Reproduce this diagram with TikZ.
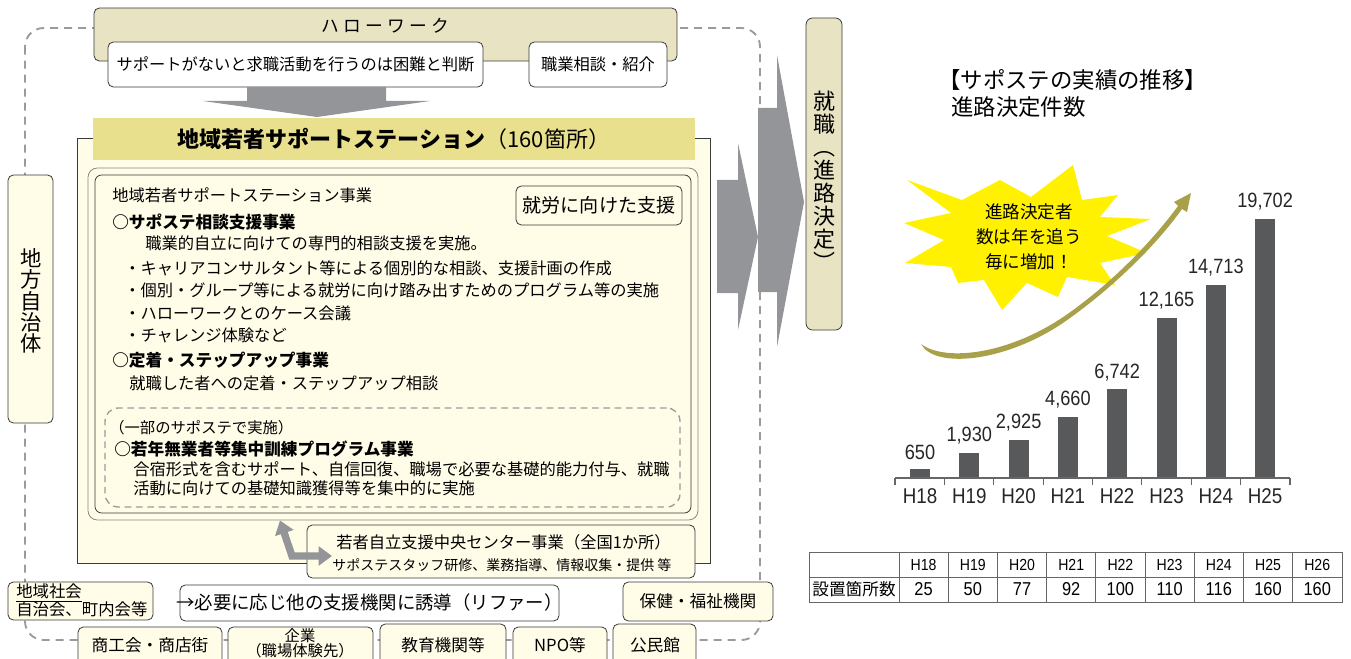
\documentclass[tikz,border=0pt]{standalone}
\usepackage{fontspec}
\setmainfont{Noto Sans CJK JP}
\newfontfamily\numfont[FakeStretch=0.88]{Liberation Sans}
\newfontfamily\spacedfont[LetterSpace=24]{Noto Sans CJK JP}
\usetikzlibrary{shapes.geometric, arrows.meta, positioning, fit, calc}

\definecolor{hwtan}{HTML}{E8E3C3}
\definecolor{bandyellow}{HTML}{E9E08E}
\definecolor{cream}{HTML}{FFFCE8}
\definecolor{arrowgray}{HTML}{939598}
\definecolor{dashgray}{HTML}{9B9B9B}
\definecolor{bargray}{HTML}{58595B}
\definecolor{staryellow}{HTML}{FFF100}
\definecolor{swooshgreen}{HTML}{A9A04A}
\definecolor{edge}{HTML}{3A3A3A}

\newcommand{\fsz}[1]{\fontsize{#1}{#1}\selectfont}

\begin{document}
\begin{tikzpicture}[
        x=0.75pt, y=-0.75pt,
        box/.style={draw=edge, line width=0.6pt, rounded corners=4pt, inner sep=0pt},
        tanbox/.style={box, fill=hwtan},
        whitebox/.style={box, fill=white},
        creambox/.style={box, fill=cream},
        label/.style={inner sep=0pt, font=\fsz{12.5}},
        txt/.style={anchor=west, inner sep=0pt, font=\fsz{12.2}},
        headtxt/.style={anchor=west, inner sep=0pt, font=\fsz{12.5}\bfseries},
        bar/.style={fill=bargray},
        num/.style={inner sep=0pt, font=\numfont\fsz{15.5}, text=black!85},
        tableline/.style={draw=black!60, line width=0.6pt}
    ]
        \useasboundingbox (0,0) rectangle (1351,659);
        \clip (0,0) rectangle (1351,659);

        % Outer dashed frame
        \draw[dashgray, line width=1.4pt, dash pattern=on 6pt off 4.5pt, rounded corners=14pt]
            (25,28) rectangle (760,640);

        % Hello Work
        \node[tanbox, fit={(94,8) (677,61)}] (hw) {};
        \node[font=\spacedfont\fsz{13.3}] (hwtitle) at (385,26) {ハローワーク};
        \node[whitebox, fit={(108,42) (483,87)}] (judge) {};
        \node[label, font=\fsz{12.2}] at (judge.center) {サポートがないと求職活動を行うのは困難と判断};
        \node[whitebox, fit={(529,42) (667,87)}] (consult) {};
        \node[label, font=\fsz{12.2}] at (consult.center) {職業相談・紹介};

        % Down arrow into the station
        \fill[arrowgray] (247,87) -- (386,87) -- (386,101) -- (430,101) -- (317,117)
            -- (203,101) -- (247,101) -- cycle;

        % Station box and its title band
        \node[draw=edge, line width=0.6pt, fill=cream, inner sep=0pt, fit={(77,138) (710,563)}] (station) {};
        \node[fill=bandyellow, inner sep=0pt, fit={(93,118) (695,160)}] (band) {};
        \node[label, font=\fsz{16.5}] at (band.center) {{\bfseries 地域若者サポートステーション}（160箇所）};

        % Program box (double border)
        \node[draw=edge!60, line width=0.6pt, fill=cream, rounded corners=7pt, inner sep=0pt, fit={(88,168) (698,520)}] (programouter) {};
        \node[draw=edge, line width=0.6pt, rounded corners=5pt, inner sep=0pt, fit={(95,175) (691,513)}] (program) {};
        \node[creambox, fit={(516,186) (682,225)}] (toward) {};
        \node[label, font=\fsz{14.3}] at (toward.center) {就労に向けた支援};

        \node[txt] (progtitle) at (112,195) {地域若者サポートステーション事業};
        \node[headtxt] (consulthead) at (112,222) {○サポステ相談支援事業};
        \node[txt] (consultbody) at (145,243) {職業的自立に向けての専門的相談支援を実施。};
        \node[txt] (itemone) at (124,268) {・キャリアコンサルタント等による個別的な相談、支援計画の作成};
        \node[txt] (itemtwo) at (124,290) {・個別・グループ等による就労に向け踏み出すためのプログラム等の実施};
        \node[txt] (itemthree) at (124,313) {・ハローワークとのケース会議};
        \node[txt] (itemfour) at (124,335) {・チャレンジ体験など};
        \node[headtxt] (stephead) at (112,360) {○定着・ステップアップ事業};
        \node[txt] (stepbody) at (129,383) {就職した者への定着・ステップアップ相談};

        % Intensive training (dashed)
        \node[draw=dashgray, line width=1pt, dash pattern=on 5pt off 3.5pt, rounded corners=10pt, inner sep=0pt,
            fit={(105,408) (680,507)}] (intensive) {};
        \node[txt, font=\fsz{11.5}] (somestations) at (109,428) {（一部のサポステで実施）};
        \node[headtxt] (trainhead) at (114,449) {○若年無業者等集中訓練プログラム事業};
        \node[txt] (trainone) at (133,469) {合宿形式を含むサポート、自信回復、職場で必要な基礎的能力付与、就職};
        \node[txt] (traintwo) at (133,488) {活動に向けての基礎知識獲得等を集中的に実施};

        % Central center
        \node[creambox, fit={(307,525) (695,578)}] (central) {};
        \node[txt] (centralone) at (336,542) {若者自立支援中央センター事業（全国1か所）};
        \node[txt, font=\fsz{10.5}] (centraltwo) at (332,565) {サポステスタッフ研修、業務指導、情報収集・提供 等};
        \coordinate (centralin) at (332,556);
        \draw[arrowgray, line width=5.5pt,
            {Triangle[length=10pt,width=14pt]}-{Triangle[length=10pt,width=14pt]}]
            (programouter.south -| 280,0) -- (292,556) -- (centralin);

        % Local government
        \node[creambox, fit={(8,175) (53,423)}] (localgov) {};
        \node[label, align=center, font=\fontsize{16}{16}\selectfont] at (31,301) {地\\方\\自\\治\\体};

        % Bottom row
        \node[creambox, fit={(8,582) (153,620)}] (community) {};
        \node[txt, font=\fsz{12.3}] (communityone) at (16,593) {\underline{地域社会}};
        \node[txt, font=\fsz{12.3}] (communitytwo) at (16,609) {自治会、町内会等};
        \node[whitebox, fit={(180,585) (559,621)}] (refer) {};
        \node[label, font=\fsz{13.8}] at (refer.center) {→必要に応じ他の支援機関に誘導（リファー）};
        \node[creambox, fit={(623,582) (773,621)}] (welfare) {};
        \node[label] at (welfare.center) {保健・福祉機関};

        \node[creambox, fit={(78,627) (222,690)}] (commerce) {};
        \node[label] at (150,645) {商工会・商店街};
        \node[creambox, fit={(228,627) (373,690)}] (company) {};
        \node[label, font=\fsz{11.5}] at (300,636) {企業};
        \node[label, font=\fsz{11.5}] at (300,651) {（職場体験先）};
        \node[creambox, fit={(380,624) (506,690)}] (school) {};
        \node[label] at (443,645) {教育機関等};
        \node[creambox, fit={(513,627) (607,690)}] (npo) {};
        \node[label] at (560,645) {NPO等};
        \node[creambox, fit={(613,624) (696,690)}] (hall) {};
        \node[label] at (655,645) {公民館};

        % Big arrows towards employment
        \fill[arrowgray] (717,180) -- (738,180) -- (738,143) -- (758,237) -- (738,330)
            -- (738,293) -- (717,293) -- cycle;
        \fill[arrowgray] (758,108) -- (777,108) -- (777,55) -- (804,202) -- (777,347)
            -- (777,292) -- (758,292) -- cycle;

        % Employment
        \node[tanbox, rounded corners=5pt, fit={(806,18) (842,330)}] (job) {};
        \node[label, align=center, font=\fontsize{16.5}{17.25}\selectfont] at (824,181)
            {就\\職\\︵\\進\\路\\決\\定\\︶};

        % Chart title
        \node[anchor=west, inner sep=0pt, font=\fsz{16.8}] (charttitle) at (938,80) {【サポステの実績の推移】};
        \node[anchor=west, inner sep=0pt, font=\fsz{16.8}] (chartsub) at (951,107) {進路決定件数};

        % Starburst note
        \fill[staryellow] (907,180) -- (962,200) -- (1000,180) -- (1031,197) -- (1073,165) -- (1082,200)
            -- (1118,195) -- (1100,217) -- (1151,219) -- (1107,236) -- (1147,253) -- (1100,263)
            -- (1115,285) -- (1067,277) -- (1058,297) -- (1027,283) -- (1002,310) -- (984,280)
            -- (958,283) -- (951,267) -- (905,263) -- (944,240) -- (904,223) -- (951,213) -- cycle;
        \node[align=center, font=\fontsize{13.2}{18.75}\selectfont] (starnote) at (1029,237)
            {進路決定者\\数は年を追う\\毎に増加！};

        % Rising swoosh
        \fill[swooshgreen] (921,344) .. controls (935,370) and (1010,362) .. (1070,318)
            .. controls (1120,282) and (1160,240) .. (1182,209) -- (1187,212) -- (1191,193)
            -- (1174,202) -- (1178,206) .. controls (1156,236) and (1118,278) .. (1069,313)
            .. controls (1010,355) and (945,362) .. (921,344) -- cycle;

        % Bars (values in thousands)
        \foreach \val/\lab [count=\i] in {0.650/650, 1.930/{1,930}, 2.925/{2,925}, 4.660/{4,660},
                6.742/{6,742}, 12.165/{12,165}, 14.713/{14,713}, 19.702/{19,702}} {
            \pgfmathsetmacro\xc{920+(\i-1)*49.3}
            \pgfmathsetmacro\ytop{478-\val*13.15}
            \fill[bar] (\xc-10,478) rectangle (\xc+10,\ytop);
            \node[num] at (\xc,\ytop-17) {\lab};
            \pgfmathtruncatemacro\yr{17+\i}
            \node[num, font=\numfont\fsz{16}] at (\xc,496) {H\yr};
        }
        \draw[black!60, line width=0.8pt] (895,478) -- (1290,478);
        \foreach \k in {0,...,8}
            \draw[black!60, line width=0.8pt] (895+\k*49.375,478) -- ++(0,7);

        % Table of stations
        \draw[tableline] (809,552) rectangle (1342,602);
        \draw[tableline] (809,577) -- (1342,577);
        \foreach \k in {0,...,8}
            \draw[tableline] (899+\k*49.2,552) -- (899+\k*49.2,602);
        \node[font=\fsz{12.5}] (rowhead) at (854,589.5) {設置箇所数};
        \foreach \yr/\n [count=\i] in {18/25, 19/50, 20/77, 21/92, 22/100, 23/110, 24/116, 25/160, 26/160} {
            \node[inner sep=0pt, font=\numfont\fsz{12}] at (899+\i*49.2-24.6,564.5) {H\yr};
            \node[inner sep=0pt, font=\numfont\fsz{14}] at (899+\i*49.2-24.6,589.5) {\n};
        }

    \end{tikzpicture}
\end{document}
